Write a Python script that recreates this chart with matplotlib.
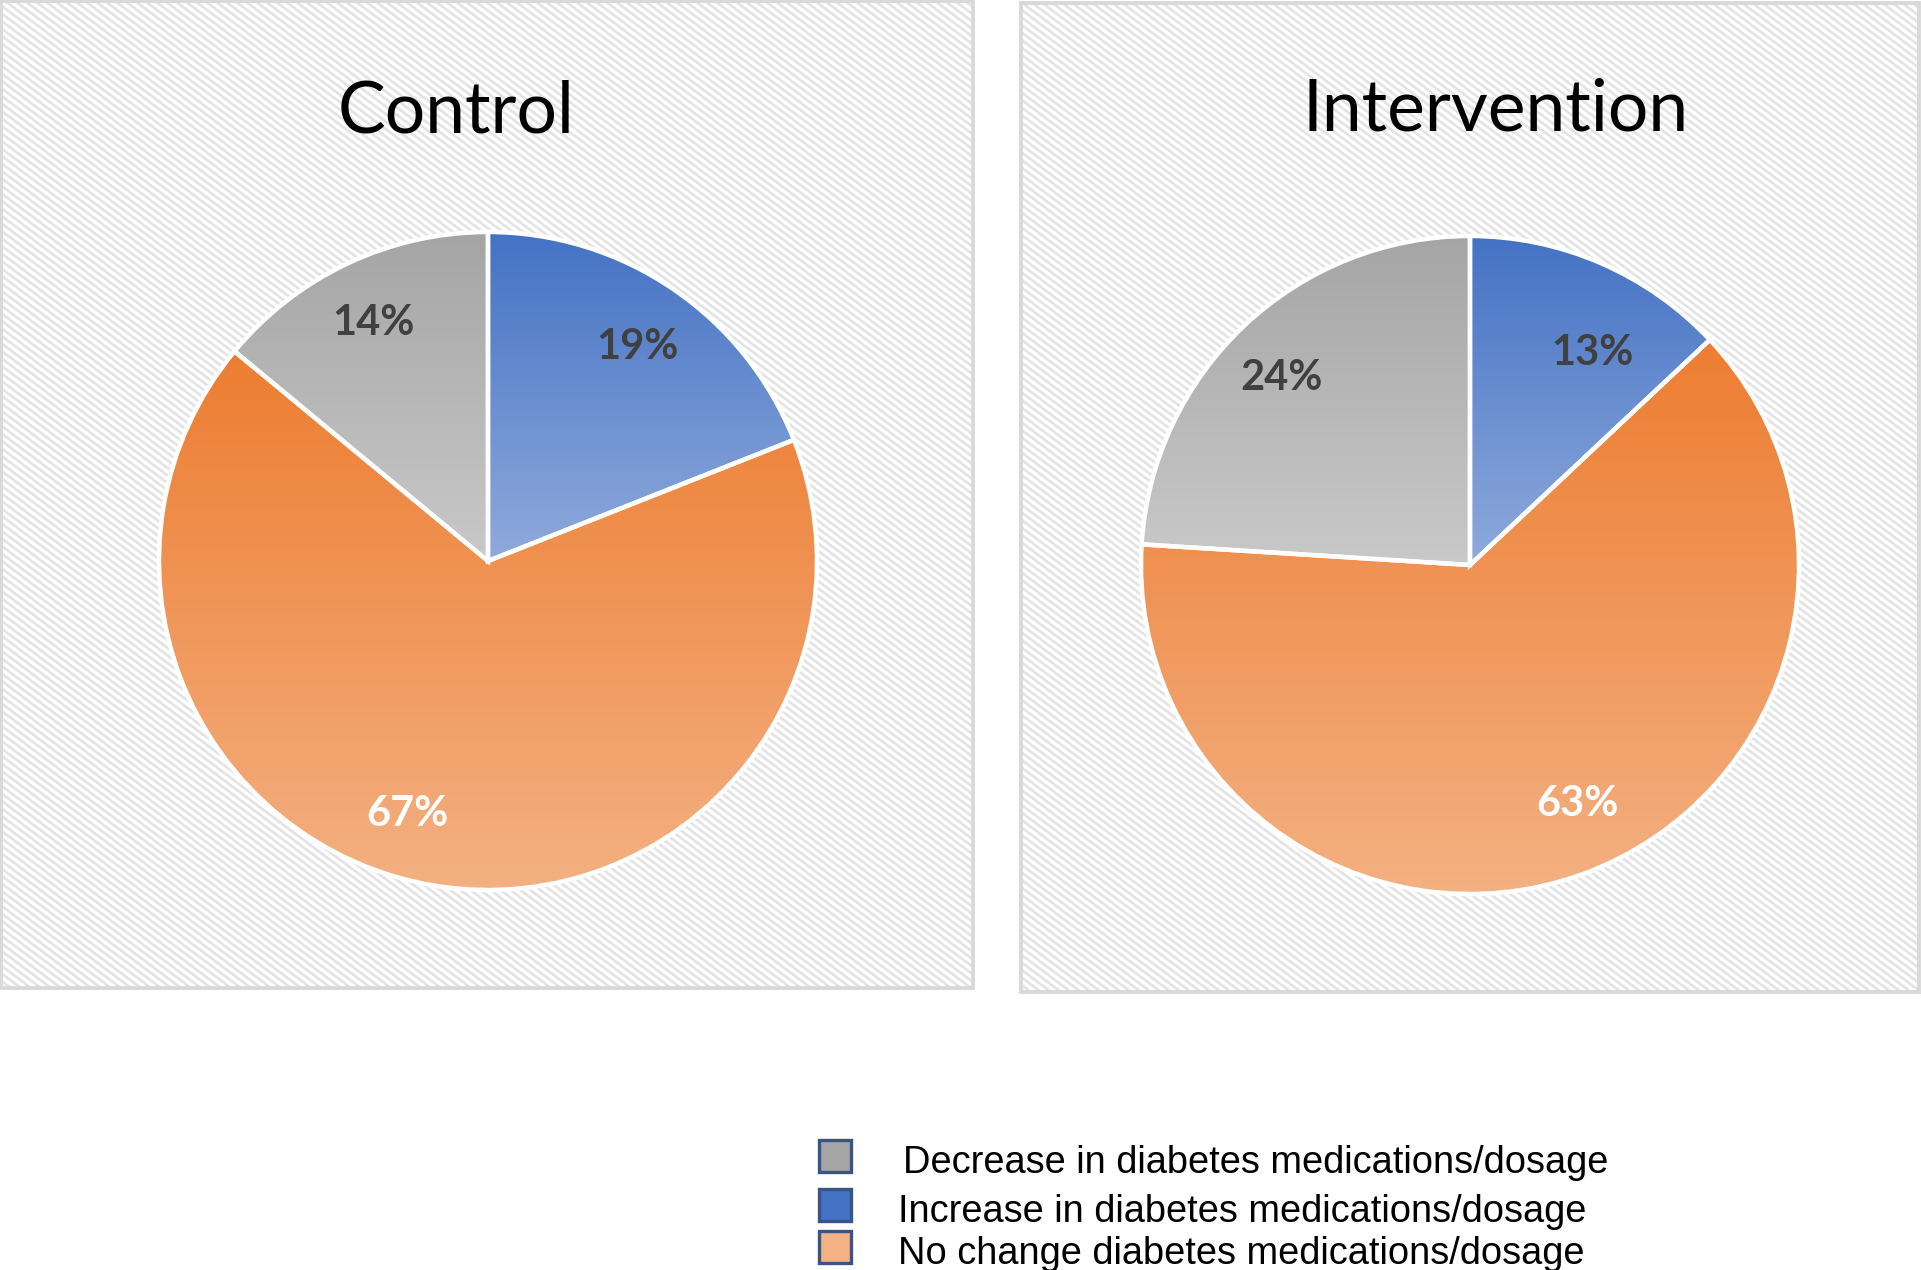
import numpy as np
import matplotlib
matplotlib.use("Agg")
import matplotlib.pyplot as plt
from matplotlib.patches import Rectangle
from matplotlib.collections import LineCollection
from matplotlib.colors import LinearSegmentedColormap

# data
groups = ["Control", "Intervention"]
categories = ["Increase in diabetes medications/dosage",
              "No change diabetes medications/dosage",
              "Decrease in diabetes medications/dosage"]
control_pct = [19, 67, 14]
intervention_pct = [13, 63, 24]
legend_order = [2, 0, 1]  # decrease, increase, no change

# gradient colours per category (top, bottom)
grad = [("#4472C4", "#8FAADC"), ("#ED7D31", "#F4B183"), ("#A5A5A5", "#C9C9C9")]
legend_fill = ["#4472C4", "#F4B183", "#A5A5A5"]
label_col = ["#404040", "white", "#404040"]

W, H = 1921, 1270
fig = plt.figure(figsize=(W / 100, H / 100), dpi=100)
ax = fig.add_axes([0, 0, 1, 1])

# panels (pixel coords, y measured from top) with a fine diagonal stripe texture
panels = [(1, 1, 972, 987), (1021, 3, 898, 989)]
slope, gap = 0.75, 7.5
for (px, py, pw, ph) in panels:
    y0 = H - py - ph
    bg = Rectangle((px, y0), pw, ph, facecolor="white", edgecolor="none", zorder=0)
    ax.add_patch(bg)
    cs = np.arange(y0, y0 + ph + slope * pw + gap, gap)
    segs = [[(px, c), (px + pw, c - slope * pw)] for c in cs]
    lc = LineCollection(segs, colors="#E3E3E3", linewidths=1.9, zorder=0.5)
    ax.add_collection(lc)
    lc.set_clip_path(bg)
    ax.add_patch(Rectangle((px, y0), pw, ph, facecolor="none",
                           edgecolor="#D9D9D9", lw=2.8, zorder=0.6))

centers = [(488, 561), (1470, 565)]
radius = 329
title_pos = [(456, 112), (1496, 110)]
# label (distance, angle nudge in degrees)
lab_adj = [[(0.81, 0), (0.79, -9), (0.82, 0)],
           [(0.76, -6), (0.78, 5), (0.82, 1)]]

for g, vals in enumerate([control_pct, intervention_pct]):
    cx, cy = centers[g]
    wedges, _ = ax.pie(vals, startangle=90, counterclock=False,
                       center=(cx, H - cy), radius=radius,
                       wedgeprops=dict(edgecolor="white", linewidth=3.2))
    for i, w in enumerate(wedges):
        v = w.get_path().vertices
        cmap = LinearSegmentedColormap.from_list("g", [grad[i][1], grad[i][0]])
        im = ax.imshow(np.linspace(0, 1, 256).reshape(-1, 1), cmap=cmap,
                       origin="lower", aspect="auto",
                       extent=(v[:, 0].min(), v[:, 0].max(), v[:, 1].min(), v[:, 1].max()),
                       zorder=1)
        im.set_clip_path(w)
        w.set_facecolor("none")
        w.set_zorder(2)
        mid = np.deg2rad((w.theta1 + w.theta2) / 2 + lab_adj[g][i][1])
        d = lab_adj[g][i][0] * radius
        ax.text(cx + d * np.cos(mid), H - cy + d * np.sin(mid) - 6, f"{vals[i]}%",
                ha="center", va="center", fontsize=30, fontweight="bold",
                family="Lato", color=label_col[i], zorder=3)
    tx, ty = title_pos[g]
    ax.text(tx, H - ty, groups[g], ha="center", va="center", fontsize=51.5,
            family="Lato", color="black", zorder=3)

# legend
leg_y = [1156, 1205, 1247]
leg_tx = [903, 898, 898]
for k, i in enumerate(legend_order):
    ax.add_patch(Rectangle((819, H - leg_y[k] - 16), 32, 32, facecolor=legend_fill[i],
                           edgecolor="#3A5488", lw=2.4, zorder=3))
    ax.text(leg_tx[k], H - leg_y[k] - 7, categories[i], ha="left", va="center",
            fontsize=27.4, family="Liberation Sans", color="black", zorder=3)

ax.set_xlim(0, W)
ax.set_ylim(0, H)
ax.set_aspect("auto")
ax.axis("off")

fig.savefig("out.png", dpi=100)
